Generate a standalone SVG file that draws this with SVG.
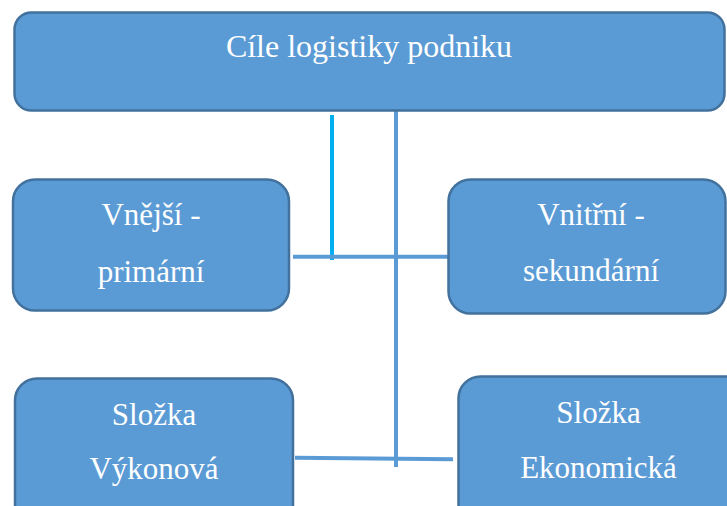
<svg xmlns="http://www.w3.org/2000/svg" width="727" height="506" viewBox="0 0 727 506">
<style>
.box{fill:#5B9BD5;stroke:#41719C;stroke-width:2.5}
.t{font-family:'Liberation Serif',Tinos,'Times New Roman','DejaVu Serif',serif;fill:#fff;text-anchor:middle}
.c{stroke:#5B9BD5;stroke-width:4;fill:none}
.cy{stroke:#00B0F0;stroke-width:4;fill:none}
</style>
<rect width="727" height="506" fill="#fff"/>
<g id="connectors">
<line class="cy" x1="332" y1="115" x2="332" y2="260"/>
<line class="c" x1="396" y1="110" x2="396" y2="467" stroke-width="3.5"/>
<line class="c" x1="293" y1="256.7" x2="448" y2="256.7"/>
<line class="c" x1="295" y1="457.7" x2="453" y2="459.3"/>
</g>
<g id="top">
<rect class="box" x="14.5" y="12.5" width="710" height="98" rx="17"/>
<text class="t" x="369" y="56.5" font-size="32" font-family="Liberation Serif, serif">Cíle logistiky podniku</text>
</g>
<g id="vnejsi">
<rect class="box" x="13" y="179.5" width="276" height="131" rx="22"/>
<text class="t" x="151" y="225" font-size="31">Vnější -</text>
<text class="t" x="151" y="281.5" font-size="31">primární</text>
</g>
<g id="vnitrni">
<rect class="box" x="448.5" y="179.5" width="277" height="134" rx="22"/>
<text class="t" x="591" y="225" font-size="31">Vnitřní -</text>
<text class="t" x="591" y="281" font-size="31">sekundární</text>
</g>
<g id="vykonova">
<rect class="box" x="15" y="378.5" width="278" height="150" rx="22"/>
<text class="t" x="154" y="425" font-size="31">Složka</text>
<text class="t" x="154" y="479" font-size="31">Výkonová</text>
</g>
<g id="ekonomicka">
<rect class="box" x="458.5" y="376.5" width="290" height="150" rx="22"/>
<text class="t" x="598.5" y="423" font-size="31">Složka</text>
<text class="t" x="598.5" y="478" font-size="31">Ekonomická</text>
</g>
</svg>
